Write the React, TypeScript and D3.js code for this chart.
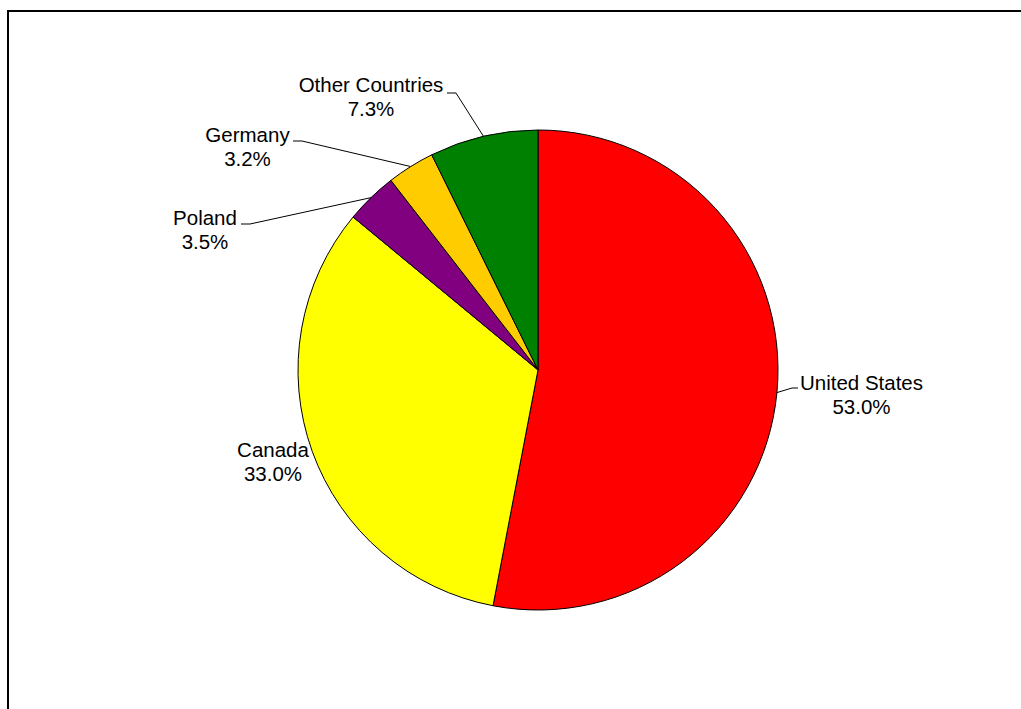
import React from "react";
import * as d3 from "d3";

const countries = ["United States", "Canada", "Poland", "Germany", "Other Countries"];
const shares = [53.0, 33.0, 3.5, 3.2, 7.3];
const colors = ["#FF0000", "#FFFF00", "#800080", "#FFCC00", "#008000"];

// label layout: text centre x, first baseline y, leader path points (elbow, text end)
const labelLayout = [
  { cx: 861.5, y: 390, leader: [[792, 388], [798, 388]] },
  { cx: 273, y: 457, leader: null },
  { cx: 205, y: 225, leader: [[250, 224], [241, 224]] },
  { cx: 247.5, y: 142, leader: [[302, 141], [293, 141]] },
  { cx: 371, y: 92, leader: [[456, 93], [447, 93]] },
];

const W = 1021;
const H = 709;
const CX = 538;
const CY = 370;
const R = 240;

export default function App() {
  const data = countries.map((c, i) => ({ name: c, value: shares[i], color: colors[i] }));
  const pie = d3.pie<any>().sort(null).value((d) => d.value).startAngle(0).endAngle(2 * Math.PI);
  const arcs = pie(data);
  const arc = d3.arc<any>().innerRadius(0).outerRadius(R);
  const line = d3.line();
  const font = "'Liberation Sans', Arial, sans-serif";

  return (
    <svg
      width={W}
      height={H}
      style={{ position: "absolute", left: 0, top: 0, background: "#fff" }}
    >
      <rect x={8} y={11} width={1200} height={900} fill="#fff" stroke="#000" strokeWidth={2} />
      <g transform={`translate(${CX},${CY})`}>
        {arcs.map((a, i) => (
          <path key={i} d={arc(a) || ""} fill={a.data.color} stroke="#000" strokeWidth={1} />
        ))}
      </g>
      {arcs.map((a, i) => {
        const lay = labelLayout[i];
        const mid = (a.startAngle + a.endAngle) / 2;
        const ex = CX + R * Math.sin(mid);
        const ey = CY - R * Math.cos(mid);
        return (
          <g key={i}>
            {lay.leader && (
              <path
                d={line([[ex, ey], ...(lay.leader as [number, number][])]) || ""}
                fill="none"
                stroke="#000"
                strokeWidth={1}
              />
            )}
            <text
              x={lay.cx}
              y={lay.y}
              textAnchor="middle"
              fontFamily={font}
              fontSize={20.5}
              fill="#000"
            >
              {a.data.name}
            </text>
            <text
              x={lay.cx}
              y={lay.y + 24}
              textAnchor="middle"
              fontFamily={font}
              fontSize={20.5}
              fill="#000"
            >
              {a.data.value.toFixed(1) + "%"}
            </text>
          </g>
        );
      })}
    </svg>
  );
}
